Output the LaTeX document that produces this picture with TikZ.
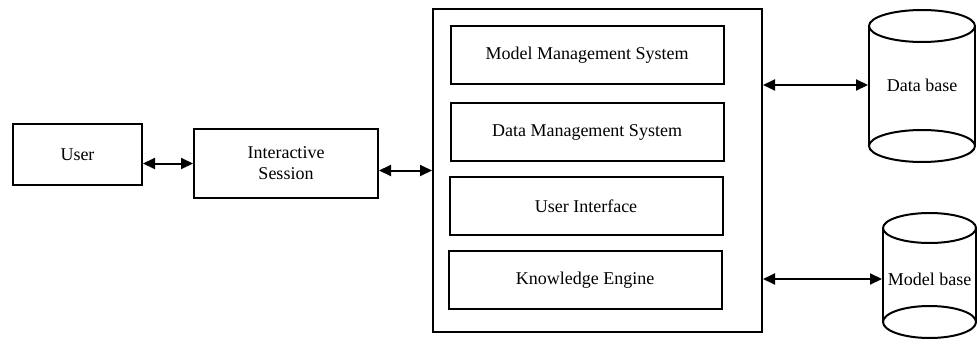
\documentclass[tikz,border=0pt]{standalone}
\usepackage{fontspec}
\setmainfont{Liberation Serif}
\usetikzlibrary{arrows.meta,positioning,calc}
\begin{document}
\begin{tikzpicture}[x=0.5pt,y=-0.5pt,>={Triangle[length=6pt,width=5.5pt]},font=\fontsize{9}{10.5}\selectfont,line width=1pt]
\tikzstyle{blk}=[draw,align=center,inner sep=0pt]
\tikzstyle{sub}=[blk,minimum width=136.5pt,minimum height=29pt]
\useasboundingbox (0,0) rectangle (978,342);
% left side
\node[blk,minimum width=64.5pt,minimum height=30.5pt] (user) at (77.5,154.5) {User};
\node[blk,minimum width=92pt,minimum height=34.5pt] (sess) at (286,163.5) {Interactive\\ Session};
% central system with its parts
\node[blk,minimum width=164.5pt,minimum height=161.5pt] (sys) at (597.5,170.5) {};
\node[sub] (mms) at (587,55) {Model Management System};
\node[sub] (dms) at (587,132) {Data Management System};
\node[sub] (ui) at (586,206) {User Interface};
\node[sub] (ke) at (585,280) {Knowledge Engine};
% stores
\draw (922,26) ellipse [x radius=53,y radius=16];
\draw (922,146) ellipse [x radius=53,y radius=16];
\draw (869,26) -- (869,146) (975,26) -- (975,146);
\node[inner sep=0pt,minimum width=53pt] (db) at (922,85) {Data base};
\draw (929.5,228) ellipse [x radius=46.5,y radius=15];
\draw (929.5,322) ellipse [x radius=46.5,y radius=16];
\draw (883,228) -- (883,322) (976,228) -- (976,322);
\node[inner sep=0pt,minimum width=46.5pt] (mb) at (929.5,279) {Model base};
% links
\draw[<->] (user.east |- sess.west) -- (sess.west);
\draw[<->] (sess.east |- sys.west) -- (sys.west);
\draw[<->] (sys.east |- db.west) -- (db.west);
\draw[<->] (sys.east |- mb.west) -- (mb.west);
\end{tikzpicture}
\end{document}
